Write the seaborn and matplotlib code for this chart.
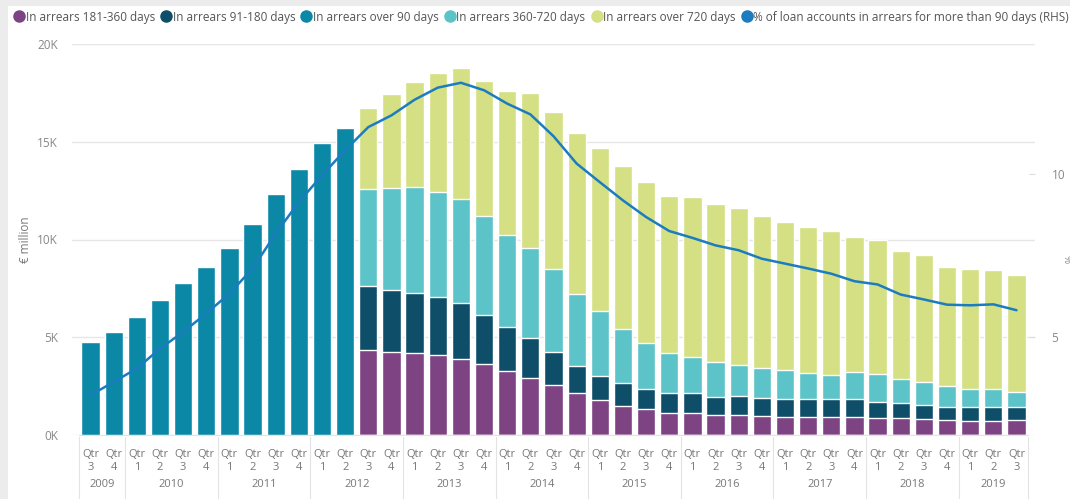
import numpy as np
import pandas as pd
import matplotlib.pyplot as plt
from matplotlib.lines import Line2D
from matplotlib.patches import Rectangle
import seaborn as sns

# quarters 2009 Q3 .. 2019 Q3
years = [2009] * 2 + [y for y in range(2010, 2019) for _ in range(4)] + [2019] * 3
qtrs = [3, 4] + [1, 2, 3, 4] * 9 + [1, 2, 3]

# values in EUR million
over_90 = [4770, 5280, 6050, 6910, 7760, 8580, 9550, 10780, 12310, 13590, 14920, 15690]
d181_360 = [4350, 4260, 4180, 4110, 3900, 3610, 3290, 2900, 2560, 2130, 1790, 1500, 1310, 1140,
            1110, 1020, 1020, 970, 940, 940, 940, 940, 890, 850, 800, 770, 730, 730, 770]
d91_180 = [3270, 3160, 3070, 2930, 2830, 2510, 2210, 2040, 1700, 1420, 1240, 1140, 1030, 990,
           1020, 910, 970, 910, 890, 890, 890, 890, 810, 770, 730, 680, 690, 690, 650]
d360_720 = [4950, 5200, 5450, 5410, 5330, 5080, 4750, 4610, 4210, 3660, 3300, 2800, 2380, 2050,
            1840, 1790, 1590, 1530, 1490, 1360, 1240, 1410, 1420, 1230, 1160, 1060, 950, 950, 800]
d720 = [4170, 4810, 5340, 6050, 6700, 6930, 7360, 7930, 8070, 8250, 8330, 8320, 8240, 8050,
        8190, 8080, 8020, 7790, 7590, 7470, 7380, 6900, 6850, 6580, 6500, 6070, 6100, 6070, 5960]
pct_90 = [3.22, 3.63, 4.04, 4.65, 5.16, 5.73, 6.34, 7.11, 8.18, 9.15, 9.97, 10.74,
          11.45, 11.81, 12.29, 12.66, 12.81, 12.58, 12.17, 11.84, 11.17, 10.33, 9.76, 9.2,
          8.69, 8.26, 8.05, 7.82, 7.67, 7.41, 7.26, 7.11, 6.95, 6.72, 6.62, 6.31, 6.16,
          6.0, 5.98, 6.01, 5.83]

labels = ['In arrears 181-360 days', 'In arrears 91-180 days', 'In arrears over 90 days',
          'In arrears 360-720 days', 'In arrears over 720 days',
          '% of loan accounts in arrears for more than 90 days (RHS)']
colors = ['#7d4383', '#0f4e69', '#0b88a6', '#5cc4c8', '#d4e083', '#1c7cc0']

n = len(years)
n_old = len(over_90)
pad = [0] * n_old
df = pd.DataFrame({'q': [f'{y} Q{q}' for y, q in zip(years, qtrs)]})
df['over90'] = over_90 + [0] * (n - n_old)
df['c1'] = pad + d181_360
df['c2'] = df['c1'] + (pad + d91_180)
df['c3'] = df['c2'] + (pad + d360_720)
df['c4'] = df['c3'] + (pad + d720)

sns.set_style('white')
plt.rcParams['font.family'] = ['Open Sans', 'DejaVu Sans']

fig = plt.figure(figsize=(10.7, 4.99), dpi=100, facecolor='#ececec')
fig.patches.append(Rectangle((8 / 1070, 0), 1, 1 - 6 / 499, transform=fig.transFigure,
                             facecolor='white', edgecolor='none', zorder=-1))
ax = fig.add_axes([72 / 1070, 64 / 499, 963 / 1070, 391 / 499])
ax.set_facecolor('none')

order = list(df['q'])
for col, c in [('c4', colors[4]), ('c3', colors[3]), ('c2', colors[1]),
               ('c1', colors[0]), ('over90', colors[2])]:
    sns.barplot(data=df, x='q', y=col, order=order, color=c, width=0.79,
                saturation=1, errorbar=None, ax=ax, zorder=2)

ax.set_ylim(0, 20000)
ax.set_xlim(-0.8, n - 0.2)
ax.set_yticks([0, 5000, 10000, 15000, 20000])
ax.set_yticklabels(['0K', '5K', '10K', '15K', '20K'])
ax.yaxis.grid(True, color='#e6e6e6', lw=1)
ax.set_axisbelow(True)
for s in ax.spines.values():
    s.set_visible(False)
ax.set_xticks(range(n))
ax.set_xticklabels([f'Qtr\n{q}' for q in qtrs], linespacing=1.3)
ax.tick_params(axis='x', length=0, pad=10, labelsize=8, labelcolor='#777777')
ax.tick_params(axis='y', length=0, pad=10, labelsize=8.5, labelcolor='#888888')
ax.set_xlabel('')
ax.set_ylabel('€ million', color='#777777', fontsize=8.5, labelpad=4)

# year separators and labels under the quarter ticks
bounds = [-0.5] + [i - 0.5 for i in range(1, n) if years[i] != years[i - 1]] + [n - 0.5]
xt = ax.get_xaxis_transform()
ax.plot([-0.5, n - 0.5], [0, 0], transform=xt, color='#e3e3e3', lw=0.8, clip_on=False)
for b in bounds:
    ax.plot([b, b], [-0.005, -0.17], transform=xt, color='#e3e3e3', lw=0.8, clip_on=False)
for yr in sorted(set(years)):
    idx = [i for i, y in enumerate(years) if y == yr]
    ax.text(np.mean(idx), -0.127, str(yr), transform=xt, ha='center', va='center',
            fontsize=8, color='#777777')

# percentage line on the right axis
ax2 = ax.twinx()
sns.lineplot(x=np.arange(n), y=pct_90, ax=ax2, color=colors[5], lw=1.8, zorder=5)
ax2.set_ylim(2, 14)
ax2.set_xlim(-0.8, n - 0.2)
ax2.set_yticks([5, 10])
ax2.tick_params(axis='y', direction='in', length=4, color='#dddddd', pad=12,
                labelsize=8.5, labelcolor='#888888')
for s in ax2.spines.values():
    s.set_visible(False)
fig.text(1066 / 1070, 240 / 499, '%', rotation=270, ha='center', va='center',
         fontsize=7, color='#888888')

handles = [Line2D([], [], marker='o', ls='', markersize=8, markerfacecolor=c,
                  markeredgecolor=c) for c in colors]
fig.legend(handles, labels, loc='center left', bbox_to_anchor=(0.008, 1 - 17 / 499), ncol=6,
           frameon=False, fontsize=8.5, handletextpad=0.05, columnspacing=0.45,
           handlelength=1, borderaxespad=0, labelcolor='#555555')

fig.savefig('out.png', dpi=100, facecolor=fig.get_facecolor())
